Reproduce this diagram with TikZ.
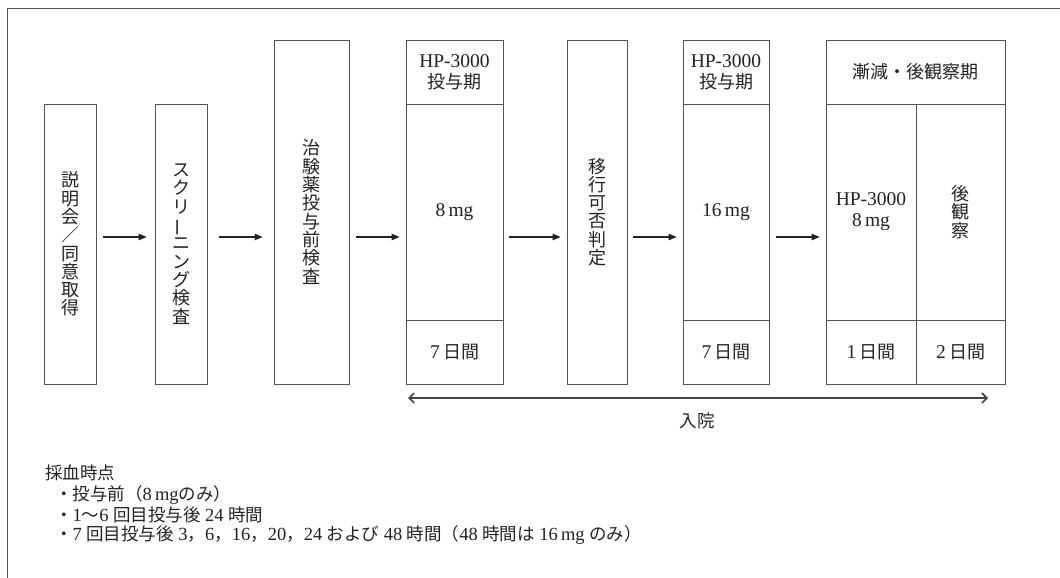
\documentclass[tikz,border=0pt]{standalone}
\usepackage{fontspec}
\setmainfont{Liberation Serif}
\newfontfamily\cjk{Noto Sans CJK JP}
\newcommand{\JC}[1]{{\cjk\fontsize{18}{21}\selectfont #1}}
\newcommand{\JB}[1]{{\cjk\fontsize{17.5}{20}\selectfont #1}}
\newcommand{\G}{\hspace{4.5pt}}
\newcommand{\vlong}{\rotatebox[origin=c]{90}{ー}}
\usetikzlibrary{arrows.meta}
\definecolor{boxgray}{HTML}{555555}
\definecolor{ink}{HTML}{222222}
\definecolor{harrow}{HTML}{444444}
\tikzset{
  cell/.style={draw=boxgray, line width=0.8pt, inner sep=0pt, text=ink,
    font=\fontsize{19.5}{21}\selectfont, align=center},
  vtext/.style={cell, font=\cjk\fontsize{18}{18.3}\selectfont},
  arr/.style={-{Triangle[length=8pt,width=6.5pt]}, line width=1.1pt, draw=ink},
  harr/.style={{Straight Barb[length=5pt,width=10pt]}-{Straight Barb[length=5pt,width=10pt]}, line width=1.6pt, draw=harrow},
  lbl/.style={inner sep=0pt, text=ink, font=\fontsize{18.5}{20}\selectfont},
  frame/.style={draw=boxgray, line width=1pt}
}
\begin{document}
\begin{tikzpicture}[x=1pt,y=-1pt]
\useasboundingbox (0,0) rectangle (1060,578);
\draw[frame] (1060,9) -- (7,9) -- (7,578);

% boxes
\node[vtext, minimum width=52, minimum height=280] (b1) at (70,244) {説\\明\\会\\／\\同\\意\\取\\得};
\node[vtext, minimum width=52, minimum height=280] (b2) at (181,244) {ス\\ク\\リ\\\vlong\\ニ\\ン\\グ\\検\\査};
\node[vtext, minimum width=75, minimum height=344] (b3) at (311.5,212) {治\\験\\薬\\投\\与\\前\\検\\査};

\node[cell, minimum width=97, minimum height=64] (b4h) at (454.5,72) {HP-3000\\\JC{投与期}};
\node[cell, minimum width=97, minimum height=216] (b4m) at (454.5,212) {8\,mg};
\node[cell, minimum width=97, minimum height=64] (b4f) at (454.5,352) {7\,\JC{日間}};

\node[vtext, minimum width=60, minimum height=344] (b5) at (597,212) {移\\行\\可\\否\\判\\定};

\node[cell, minimum width=86, minimum height=64] (b6h) at (726,72) {HP-3000\\\JC{投与期}};
\node[cell, minimum width=86, minimum height=216] (b6m) at (726,212) {16\,mg};
\node[cell, minimum width=86, minimum height=64] (b6f) at (726,352) {7\,\JC{日間}};

\node[cell, minimum width=179, minimum height=64] (b7h) at (915.5,72) {\JC{漸減・後観察期}};
\node[cell, minimum width=90, minimum height=216] (b7a) at (871,212) {HP-3000\\8\,mg};
\node[vtext, minimum width=89, minimum height=216] (b7b) at (960.5,212) {後\\観\\察};
\node[cell, minimum width=90, minimum height=64] (b7c) at (871,352) {1\,\JC{日間}};
\node[cell, minimum width=89, minimum height=64] (b7d) at (960.5,352) {2\,\JC{日間}};

% arrows
\coordinate (ay) at (0,237);
\draw[arr, shorten <=7pt, shorten >=8pt] (b1.east |- ay) -- (b2.west |- ay);
\draw[arr, shorten <=12pt, shorten >=11pt] (b2.east |- ay) -- (b3.west |- ay);
\draw[arr, shorten <=7pt, shorten >=6pt] (b3.east |- ay) -- (b4m.west |- ay);
\draw[arr, shorten <=6pt, shorten >=6pt] (b4m.east |- ay) -- (b5.west |- ay);
\draw[arr, shorten <=6pt, shorten >=6pt] (b5.east |- ay) -- (b6m.west |- ay);
\draw[arr, shorten <=7pt, shorten >=6pt] (b6m.east |- ay) -- (b7a.west |- ay);

% hospitalization
\coordinate (hl) at (408,398);
\coordinate (hr) at (988,398);
\draw[harr] (hl) -- (hr);
\node[lbl] (nyuin) at (697,421) {\JB{入院}};

% sampling notes
\node[lbl, anchor=west] (t0) at (45,473) {\JB{採血時点}};
\node[lbl, anchor=west] (t1) at (55,495) {\JB{・投与前（}8\,mg\JB{のみ）}};
\node[lbl, anchor=west] (t2) at (55,515) {\JB{・}1\JB{〜}6\G\JB{回目投与後}\G 24\G\JB{時間}};
\node[lbl, anchor=west] (t3) at (55,535) {\JB{・}7\G\JB{回目投与後}\G 3\JB{，}6\JB{，}16\JB{，}20\JB{，}24\G\JB{および}\G 48\G\JB{時間（}48\G\JB{時間は}\G 16\,mg\G\JB{のみ）}};
\end{tikzpicture}
\end{document}
